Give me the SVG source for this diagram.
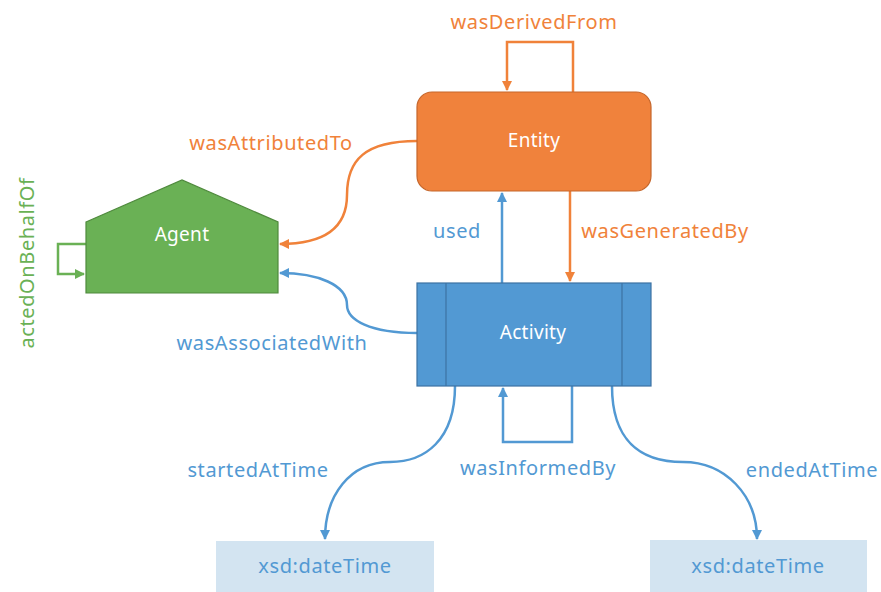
<svg xmlns="http://www.w3.org/2000/svg" width="881" height="592" viewBox="0 0 881 592">
  <style>
    text { font-family: "Noto Sans", "Liberation Sans", sans-serif; font-size: 20px; letter-spacing: 0.6px; }
    .lbl-o { fill: #f0823a; }
    .lbl-g { fill: #6ab155; }
    .lbl-b { fill: #5299d3; }
    .node-txt { fill: #ffffff; text-anchor: middle; font-size: 19px; letter-spacing: 0.3px; }
    .edge { fill: none; stroke-width: 2.5; }
    .e-o { stroke: #f0823a; }
    .e-g { stroke: #6ab155; }
    .e-b { stroke: #5299d3; }
  </style>
  <defs>
    <marker id="ah-o" viewBox="0 0 10 10" refX="9" refY="5" markerWidth="4" markerHeight="4" orient="auto">
      <path d="M0,0 L10,5 L0,10 Z" fill="#f0823a"/>
    </marker>
    <marker id="ah-g" viewBox="0 0 10 10" refX="9" refY="5" markerWidth="4" markerHeight="4" orient="auto">
      <path d="M0,0 L10,5 L0,10 Z" fill="#6ab155"/>
    </marker>
    <marker id="ah-b" viewBox="0 0 10 10" refX="9" refY="5" markerWidth="4" markerHeight="4" orient="auto">
      <path d="M0,0 L10,5 L0,10 Z" fill="#5299d3"/>
    </marker>
  </defs>

  <rect width="881" height="592" fill="#ffffff"/>

  <!-- connectors -->
  <g id="connectors">
    <path class="edge e-o" d="M573,92 V42 H507 V90" marker-end="url(#ah-o)"/>
    <path class="edge e-o" d="M417,141 C365,141 347,160 347,195 C347,232 318,244 280,244" marker-end="url(#ah-o)"/>
    <path class="edge e-g" d="M86,244 H58 V274 H84" marker-end="url(#ah-g)"/>
    <path class="edge e-b" d="M417,333 C370,333 347,320 347,305 C347,285 318,273 280,273" marker-end="url(#ah-b)"/>
    <path class="edge e-b" d="M502,283 V193" marker-end="url(#ah-b)"/>
    <path class="edge e-o" d="M570,191 V281" marker-end="url(#ah-o)"/>
    <path class="edge e-b" d="M572,386 V442 H503 V388" marker-end="url(#ah-b)"/>
    <path class="edge e-b" d="M455,386 C455,440 425,462 390,462 C350,462 325,495 325,539" marker-end="url(#ah-b)"/>
    <path class="edge e-b" d="M612,386 C612,440 640,462 683,462 C725,462 757,495 757,539" marker-end="url(#ah-b)"/>
  </g>

  <!-- edge labels -->
  <g id="edge-labels">
    <text class="lbl-o" x="534" y="29" text-anchor="middle">wasDerivedFrom</text>
    <text class="lbl-o" x="271" y="150" text-anchor="middle">wasAttributedTo</text>
    <text class="lbl-g" transform="translate(34,263) rotate(-90)" text-anchor="middle">actedOnBehalfOf</text>
    <text class="lbl-b" x="272" y="350" text-anchor="middle">wasAssociatedWith</text>
    <text class="lbl-b" x="457" y="238" text-anchor="middle">used</text>
    <text class="lbl-o" x="665" y="238" text-anchor="middle">wasGeneratedBy</text>
    <text class="lbl-b" x="538" y="475" text-anchor="middle">wasInformedBy</text>
    <text class="lbl-b" x="258" y="477" text-anchor="middle">startedAtTime</text>
    <text class="lbl-b" x="812" y="477" text-anchor="middle">endedAtTime</text>
  </g>

  <!-- Entity -->
  <g id="entity">
    <rect x="417" y="92" width="234" height="99" rx="15" fill="#f0823c" stroke="#c5662b" stroke-width="1.2"/>
    <text class="node-txt" x="534" y="147">Entity</text>
  </g>

  <!-- Agent -->
  <g id="agent">
    <polygon points="86,222 182,180 278,222 278,293 86,293" fill="#6ab155" stroke="#4f8a3d" stroke-width="1.2"/>
    <text class="node-txt" x="182" y="241">Agent</text>
  </g>

  <!-- Activity -->
  <g id="activity">
    <rect x="417" y="283" width="234" height="103" fill="#5299d3" stroke="#3d72a3" stroke-width="1.2"/>
    <line x1="446" y1="283" x2="446" y2="386" stroke="#3d72a3" stroke-width="1.2"/>
    <line x1="622" y1="283" x2="622" y2="386" stroke="#3d72a3" stroke-width="1.2"/>
    <text class="node-txt" x="533" y="339">Activity</text>
  </g>

  <!-- xsd:dateTime (start) -->
  <g id="start-time">
    <rect x="216" y="541" width="218" height="51" fill="#d3e4f1"/>
    <text class="lbl-b" x="325" y="573" text-anchor="middle">xsd:dateTime</text>
  </g>

  <!-- xsd:dateTime (end) -->
  <g id="end-time">
    <rect x="650" y="540" width="217" height="52" fill="#d3e4f1"/>
    <text class="lbl-b" x="758" y="573" text-anchor="middle">xsd:dateTime</text>
  </g>
</svg>
